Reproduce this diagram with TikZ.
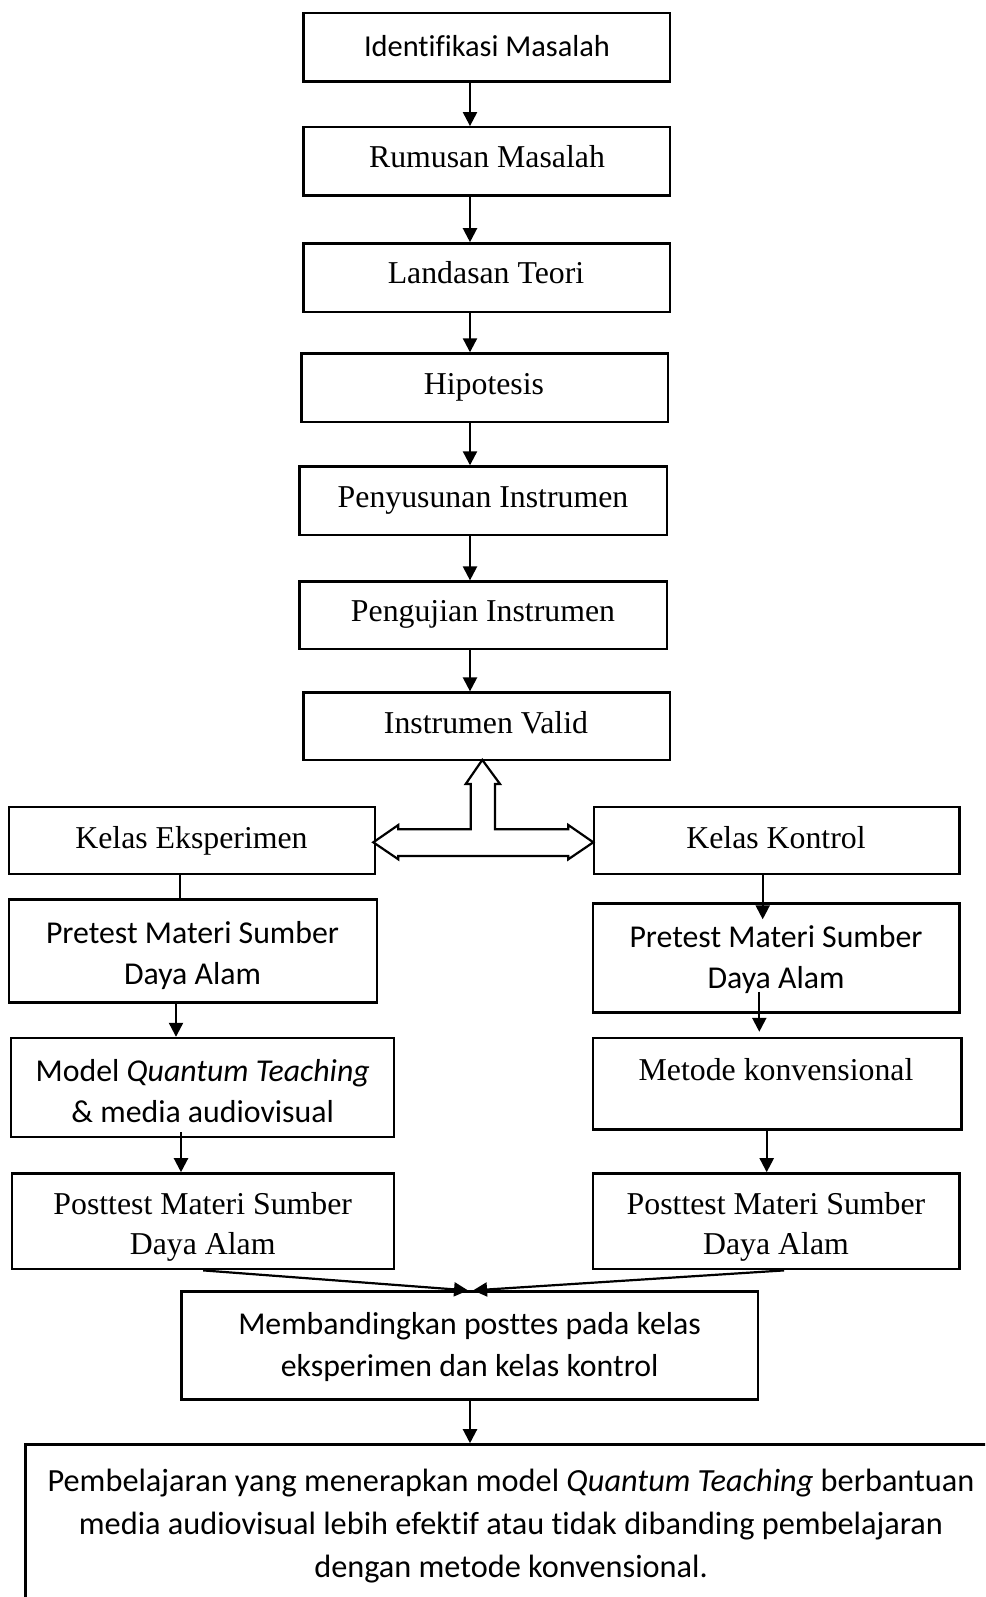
\documentclass[tikz,border=0pt]{standalone}
\usepackage{fontspec}
\setmainfont{Liberation Serif}
\newfontfamily\calfont[Ligatures={NoCommon}]{Carlito}
\usetikzlibrary{arrows.meta,calc}
\begin{document}
\begin{tikzpicture}[x=1pt,y=-1pt,
  box/.style={draw,line width=2.4pt,inner sep=0pt},
  tm/.style={font=\fontsize{31.8}{39.5}\selectfont,align=center,inner sep=0pt},
  cb/.style={font=\calfont\fontsize{31.8}{41.5}\selectfont,align=center,inner sep=0pt},
  arr/.style={line width=2.2pt,-{Triangle[width=14pt,length=14pt]}},
  ln/.style={line width=2.2pt}]
\useasboundingbox (0,0) rectangle (985,1597);
\clip (0,0) rectangle (985,1597);
\fill[white] (0,0) rectangle (985,1597);

% boxes
\node[box,minimum width=366.7pt,minimum height=68.3pt] (b1) at (486.85,47.35) {};
\node[box,minimum width=366.7pt,minimum height=68.3pt] (b2) at (486.85,161.45) {};
\node[box,minimum width=366.7pt,minimum height=68.3pt] (b3) at (486.85,277.55) {};
\node[box,minimum width=366.7pt,minimum height=68.2pt] (b4) at (484.85,387.6) {};
\node[box,minimum width=367.7pt,minimum height=68.3pt] (b5) at (483.35,500.65) {};
\node[box,minimum width=367.7pt,minimum height=67.2pt] (b6) at (483.35,615.2) {};
\node[box,minimum width=366.7pt,minimum height=67.3pt] (b7) at (486.85,726.25) {};
\node[box,minimum width=365.6pt,minimum height=67.3pt] (ke) at (192,840.35) {};
\node[box,minimum width=365.7pt,minimum height=67.3pt] (kk) at (776.65,840.35) {};
\node[box,minimum width=367.8pt,minimum height=102.9pt] (pl) at (193.1,950.85) {};
\node[box,minimum width=383pt,minimum height=98.8pt] (ml) at (202.7,1087.4) {};
\node[box,minimum width=382pt,minimum height=95.8pt] (ql) at (203.2,1221.3) {};
\node[box,minimum width=366.7pt,minimum height=109pt] (pr) at (776.15,958) {};
\node[box,minimum width=368.8pt,minimum height=91.6pt] (mr) at (777.2,1083.8) {};
\node[box,minimum width=366.7pt,minimum height=95.8pt] (qr) at (776.15,1221.3) {};
\node[box,minimum width=576.5pt,minimum height=108pt] (mb) at (469.55,1345.6) {};
\node[box,minimum width=994.5pt,minimum height=195.6pt] (fb) at (522.75,1542.2) {};

% texts
\node[cb,font=\calfont\fontsize{30.4}{38}\selectfont] (t1) at (487,46) {Identifikasi Masalah};
\node[tm] (t2) at (487,157) {Rumusan Masalah};
\node[tm] (t3) at (486,273) {Landasan Teori};
\node[tm] (t4) at (484,387) {Hipotesis};
\node[tm] (t5) at (483,501) {Penyusunan Instrumen};
\node[tm] (t6) at (483,614) {Pengujian Instrumen};
\node[tm] (t7) at (486,723) {Instrumen Valid};
\node[tm] (tke) at (191.5,841) {Kelas Eksperimen};
\node[tm] (tkk) at (776,838) {Kelas Kontrol};
\node[cb] (tpl) at (192.5,955.5) {Pretest Materi Sumber\\Daya Alam};
\node[cb] (tml) at (202.7,1091) {Model \textit{Quantum Teaching}\\\& media audiovisual};
\node[tm] (tql) at (202.7,1227) {Posttest Materi Sumber\\Daya Alam};
\node[cb] (tpr) at (776,959.5) {Pretest Materi Sumber\\Daya Alam};
\node[tm] (tmr) at (776,1069.5) {Metode konvensional};
\node[tm] (tqr) at (776,1227) {Posttest Materi Sumber\\Daya Alam};
\node[cb] (tmb) at (469.6,1347) {Membandingkan posttes pada kelas\\eksperimen dan kelas kontrol};
\node[cb,font=\calfont\fontsize{32.3}{43}\selectfont] (tfb) at (511,1526.5) {Pembelajaran yang menerapkan model \textit{Quantum Teaching} berbantuan\\media audiovisual lebih efektif atau tidak dibanding pembelajaran\\dengan metode konvensional.};

% vertical arrows, top column
\draw[arr] ([xshift=-16.85pt]b1.south) -- ([xshift=-16.85pt]b1.south |- b2.north);
\draw[arr] ([xshift=-16.85pt]b2.south) -- ([xshift=-16.85pt]b2.south |- b3.north);
\draw[arr] ([xshift=-16.85pt]b3.south) -- ([xshift=-16.85pt]b3.south |- b4.north);
\draw[arr] ([xshift=-14.85pt]b4.south) -- ([xshift=-14.85pt]b4.south |- b5.north);
\draw[arr] ([xshift=-13.35pt]b5.south) -- ([xshift=-13.35pt]b5.south |- b6.north);
\draw[arr] ([xshift=-13.35pt]b6.south) -- ([xshift=-13.35pt]b6.south |- b7.north);

% block double arrow
\draw[line width=2.2pt,fill=white,line join=miter]
  (482.3,759.9) -- (500,784) -- (495,784) -- (495,829.3) -- (568.3,829.3) -- (568.3,825)
  -- (593.3,842.3) -- (568.3,859.3) -- (568.3,856) -- (398.3,856) -- (398.3,859.3)
  -- (373.3,842.3) -- (398.3,825) -- (398.3,829.3) -- (470.7,829.3) -- (470.7,784)
  -- (465.7,784) -- cycle;

% left column
\draw[ln] ([xshift=-12pt]ke.south) -- ([xshift=-12pt]ke.south |- pl.north);
\draw[arr] ([xshift=-17.1pt]pl.south) -- ([xshift=-17.1pt]pl.south |- ml.north);
\draw[arr] ([xshift=-21.7pt,yshift=6pt]ml.south) -- ([xshift=-21.7pt]ml.south |- ql.north);

% right column
\draw[arr] ([xshift=-13.95pt]kk.south) -- ([xshift=-13.95pt,yshift=-17pt]kk.south |- pr.north);
\draw[arr] ([xshift=-16.85pt,yshift=21.8pt]pr.south) -- ([xshift=-16.85pt,yshift=5pt]pr.south |- mr.north);
\draw[arr] ([xshift=-10.5pt]mr.south) -- ([xshift=-10.5pt]mr.south |- qr.north);

% converging arrows
\draw[arr] (ql.south) -- ([xshift=-1.5pt]mb.north);
\draw[arr] ([xshift=7.85pt]qr.south) -- ([xshift=3.5pt]mb.north);
\draw[arr] ([xshift=0.45pt]mb.south) -- ([xshift=0.45pt]mb.south |- fb.north);
\end{tikzpicture}
\end{document}
